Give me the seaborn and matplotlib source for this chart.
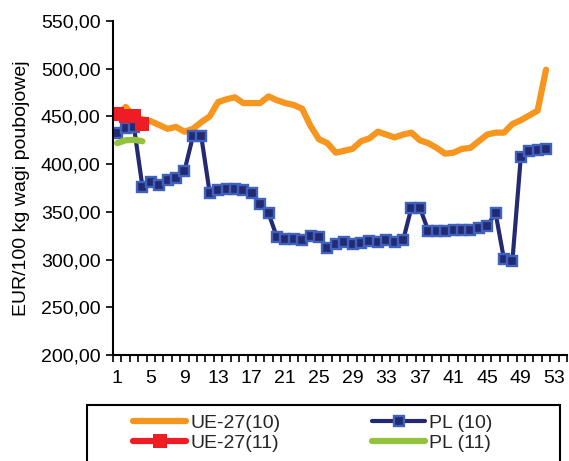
import matplotlib
matplotlib.use("Agg")
import matplotlib.pyplot as plt
from matplotlib.ticker import FixedLocator, FuncFormatter
from matplotlib.patches import Rectangle
import seaborn as sns
import pandas as pd

weeks = list(range(1, 53))
ue27_10 = [450, 460, 450, 447, 445, 441, 437, 439, 434, 437, 444, 450, 465, 468, 470, 464,
           464, 464, 471, 467, 464, 462, 458, 440, 426, 422, 412, 414, 416, 424, 427, 434,
           431, 428, 431, 433, 425, 422, 417, 411, 412, 416, 417, 424, 431, 433, 433, 442,
           446, 451, 456, 499]
pl_10 = [433, 438, 438.5, 376.5, 381, 378, 383, 386, 393, 429, 429, 370, 372.5, 373.5, 374,
         373, 370, 358.5, 348.5, 323.5, 322, 321.5, 320.5, 324.5, 323.5, 312, 316, 318, 316.5,
         317, 319, 318, 320.5, 318.5, 320, 354.5, 354.5, 330, 329.5, 329.5, 331.5, 330.5, 331,
         333, 335, 349, 300.5, 298, 407, 414, 415, 415.5]
weeks_11 = [1, 2, 3, 4]
ue27_11 = [452.5, 450.5, 450.5, 442.5]
pl_11 = [422, 425, 425.5, 424]

x_labels = list(range(1, 54, 4))
y_ticks = [200, 250, 300, 350, 400, 450, 500, 550]

df10 = pd.DataFrame({"week": weeks, "UE-27(10)": ue27_10, "PL (10)": pl_10})
df11 = pd.DataFrame({"week": weeks_11, "UE-27(11)": ue27_11, "PL (11)": pl_11})

sns.set_style("white")
plt.rcParams["font.family"] = ["Liberation Sans", "DejaVu Sans"]
FS = 14

fig = plt.figure(figsize=(5.69, 4.61), dpi=100)
ax = fig.add_axes([113/569, 1-355/461, 454/569, 334/461])

c_or = "#F7961F"
c_nv = "#232A72"
c_red = "#EE1C25"
c_gr = "#93C23D"

sns.lineplot(data=df10, x="week", y="UE-27(10)", ax=ax, color=c_or, linewidth=4.5,
             solid_capstyle="round", label="UE-27(10)")
sns.lineplot(data=df10, x="week", y="PL (10)", ax=ax, color=c_nv, linewidth=3,
             marker="s", markersize=6.8, markerfacecolor=c_nv, markeredgecolor="#3E62BE",
             markeredgewidth=1.7, label="PL (10)")
sns.lineplot(data=df11, x="week", y="UE-27(11)", ax=ax, color=c_red, linewidth=4.5,
             marker="s", markersize=9.5, markeredgewidth=0, label="UE-27(11)")
sns.lineplot(data=df11, x="week", y="PL (11)", ax=ax, color=c_gr, linewidth=4.5,
             solid_capstyle="round", label="PL (11)")

ax.set_xlim(0.5, 54.5)
ax.set_ylim(200, 550)
ax.xaxis.set_major_locator(FixedLocator(x_labels))
ax.xaxis.set_minor_locator(FixedLocator([i + 0.5 for i in range(0, 55)]))
ax.yaxis.set_major_locator(FixedLocator(y_ticks))
ax.yaxis.set_major_formatter(FuncFormatter(lambda v, p: f"{v:.2f}".replace(".", ",")))
ax.tick_params(axis="x", which="major", length=0, labelsize=FS, pad=11, colors="black")
ax.tick_params(axis="x", which="minor", length=5, width=1.2, direction="out",
               bottom=True, color="black")
ax.tick_params(axis="y", which="major", length=5, width=1.2, direction="out", left=True,
               labelsize=FS, pad=4, colors="black")
for s in ["top", "right"]:
    ax.spines[s].set_visible(False)
for s in ["left", "bottom"]:
    ax.spines[s].set_color("black")
    ax.spines[s].set_linewidth(1.5)
ax.set_xlabel("")
ax.set_ylabel("EUR/100 kg wagi poubojowej", fontsize=FS, color="black", labelpad=8)

handles, labels = ax.get_legend_handles_labels()
order = [labels.index(n) for n in ["UE-27(10)", "UE-27(11)", "PL (10)", "PL (11)"]]
ax.legend([handles[i] for i in order], [labels[i] for i in order], ncol=2,
          loc="upper left", bbox_to_anchor=(133/569, 1-414/461),
          bbox_transform=fig.transFigure, frameon=False, fontsize=FS,
          handlelength=2.75, handletextpad=0.2, columnspacing=4.7,
          borderpad=0, labelspacing=0.15, borderaxespad=0)

fig.patches.append(Rectangle((87/569, -0.05), 473/569, 0.05 + (461-405)/461,
                             transform=fig.transFigure, fill=False, edgecolor="black",
                             linewidth=1.5, clip_on=False))

fig.savefig("out.png", dpi=100)
